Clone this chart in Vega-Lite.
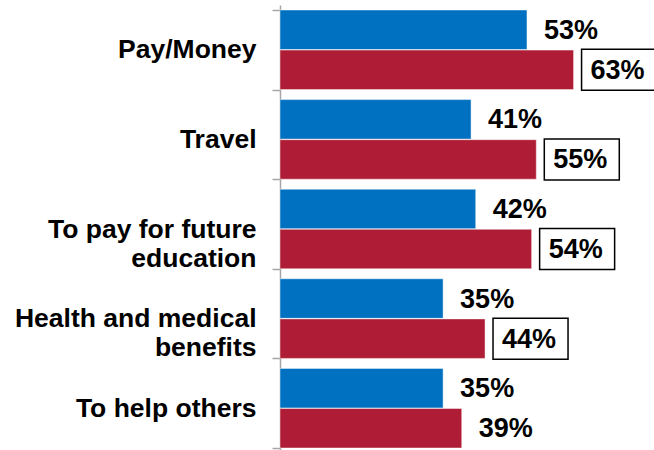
{
  "$schema": "https://vega.github.io/schema/vega-lite/v6.json",
  "autosize": "none",
  "width": 374,
  "height": 448,
  "padding": {"left": 280, "top": 5, "right": 0, "bottom": 0},
  "background": "white",
  "config": {"view": {"stroke": null}},
  "data": {
    "values": [
      {"reason": "Pay/Money", "group": "Group 1", "value": 53, "label": "53%"},
      {"reason": "Pay/Money", "group": "Group 2", "value": 63, "label": "63%"},
      {"reason": "Travel", "group": "Group 1", "value": 41, "label": "41%"},
      {"reason": "Travel", "group": "Group 2", "value": 55, "label": "55%"},
      {"reason": "To pay for future education", "group": "Group 1", "value": 42, "label": "42%"},
      {"reason": "To pay for future education", "group": "Group 2", "value": 54, "label": "54%"},
      {"reason": "Health and medical benefits", "group": "Group 1", "value": 35, "label": "35%"},
      {"reason": "Health and medical benefits", "group": "Group 2", "value": 44, "label": "44%"},
      {"reason": "To help others", "group": "Group 1", "value": 35, "label": "35%"},
      {"reason": "To help others", "group": "Group 2", "value": 39, "label": "39%"}
    ]
  },
  "encoding": {
    "y": {
      "field": "reason",
      "type": "nominal",
      "sort": null,
      "title": null,
      "scale": {"paddingInner": 0.1116, "paddingOuter": 0.0558},
      "axis": {
        "orient": "left",
        "domainColor": "#a6a6a6",
        "domainWidth": 1.5,
        "tickColor": "#a6a6a6",
        "tickWidth": 1.5,
        "tickSize": 8,
        "tickBand": "extent",
        "labelPadding": 16,
        "labelFont": "Liberation Sans",
        "labelFontWeight": "bold",
        "labelFontSize": 26.5,
        "labelColor": "#000000",
        "labelLineHeight": 29,
        "labelLimit": 300,
        "labelExpr": "datum.value == 'To pay for future education' ? ['To pay for future', 'education'] : datum.value == 'Health and medical benefits' ? ['Health and medical', 'benefits'] : datum.value"
      }
    },
    "yOffset": {
      "field": "group",
      "type": "nominal",
      "sort": null,
      "scale": {"paddingInner": 0.015, "paddingOuter": 0}
    },
    "x": {
      "field": "value",
      "type": "quantitative",
      "scale": {"domain": [0, 80.26], "nice": false, "zero": true},
      "axis": null
    }
  },
  "layer": [
    {
      "mark": {"type": "bar", "stroke": "#ffffff", "strokeOpacity": 0.45, "strokeWidth": 1},
      "encoding": {
        "color": {
          "field": "group",
          "type": "nominal",
          "scale": {"domain": ["Group 1", "Group 2"], "range": ["#0070C0", "#AE1D35"]},
          "legend": null
        }
      }
    },
    {
      "transform": [
        {"filter": "datum.group == 'Group 2' && datum.reason != 'To help others'"}
      ],
      "mark": {
        "type": "bar",
        "xOffset": 8,
        "x2Offset": 83,
        "height": 41,
        "fill": "white",
        "stroke": "#000000",
        "strokeWidth": 1.5
      },
      "encoding": {
        "x2": {"field": "value"}
      }
    },
    {
      "mark": {
        "type": "text",
        "align": "left",
        "baseline": "middle",
        "dx": 17,
        "dy": 1,
        "font": "Liberation Sans",
        "fontWeight": "bold",
        "fontSize": 27,
        "color": "#000000"
      },
      "encoding": {
        "text": {"field": "label"}
      }
    }
  ]
}
